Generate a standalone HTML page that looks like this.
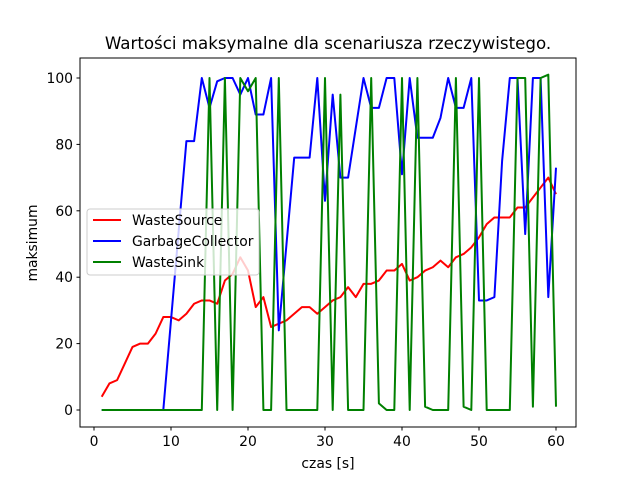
<!DOCTYPE html>
<html><head><meta charset="utf-8"><style>
body{margin:0;background:#fff}
svg{display:block;font-family:"DejaVu Sans","Liberation Sans",sans-serif}
</style></head><body>
<svg id="chart" width="640" height="480" viewBox="0 0 640 480">
<rect width="640" height="480" fill="#fff"/>
<text x="328" y="49" text-anchor="middle" font-size="16.67">Wartości maksymalne dla scenariusza rzeczywistego.</text>
<g id="ticks"></g>
<g id="series"></g>
<rect x="80" y="58" width="496" height="369" fill="none" stroke="#000" stroke-width="1"/>
<text x="328" y="468" text-anchor="middle" font-size="13.9">czas [s]</text>
<text transform="translate(37,243) rotate(-90)" text-anchor="middle" font-size="13.9">maksimum</text>
<g id="legend"></g>
</svg>
<script>
const xTicks=[0,10,20,30,40,50,60];
const yTicks=[0,20,40,60,80,100];
const seriesNames=["WasteSource","GarbageCollector","WasteSink"];
const seriesColors=["#ff0000","#0000ff","#008000"];
const wasteSource=[4,8,9,14,19,20,20,23,28,28,27,29,32,33,33,32,39,41,46,42,31,34,25,26,27,29,31,31,29,31,33,34,37,34,38,38,39,42,42,44,39,40,42,43,45,43,46,47,49,52,56,58,58,58,61,61,64,67,70,65];
const garbageCollector=[0,0,0,0,0,0,0,0,0,27,54,81,81,100,91,99,100,100,95,100,89,89,100,24,50,76,76,76,100,63,95,70,70,85,100,91,91,100,100,71,100,82,82,82,88,100,91,91,100,33,33,34,75,100,100,53,100,100,34,73];
const wasteSink=[0,0,0,0,0,0,0,0,0,0,0,0,0,0,100,0,100,0,100,96,100,0,0,100,0,0,0,0,0,100,0,95,0,0,0,100,2,0,0,100,0,100,1,0,0,0,100,1,0,100,0,0,0,0,100,100,1,100,101,1];
const NS="http://www.w3.org/2000/svg";
const X=v=>94+v*7.7;
const Y=v=>410-v*3.32;
const tg=document.getElementById('ticks');
xTicks.forEach(t=>{
  const l=document.createElementNS(NS,'line');
  l.setAttribute('x1',X(t));l.setAttribute('x2',X(t));l.setAttribute('y1',427);l.setAttribute('y2',430.5);l.setAttribute('stroke','#000');
  
  
  tg.appendChild(l);
  const s=document.createElementNS(NS,'text');
  s.setAttribute('x',X(t));s.setAttribute('y',446);s.setAttribute('text-anchor','middle');s.setAttribute('font-size','13.9');s.textContent=t;
  
  
  tg.appendChild(s);
});
yTicks.forEach(t=>{
  const l=document.createElementNS(NS,'line');
  l.setAttribute('x1',76.5);l.setAttribute('x2',80);l.setAttribute('y1',Y(t));l.setAttribute('y2',Y(t));l.setAttribute('stroke','#000');
  
  
  tg.appendChild(l);
  const s=document.createElementNS(NS,'text');
  s.setAttribute('x',73);s.setAttribute('y',Y(t)+5);s.setAttribute('text-anchor','end');s.setAttribute('font-size','13.9');s.textContent=t;
  
  
  tg.appendChild(s);
});
const sg=document.getElementById('series');
[wasteSource,garbageCollector,wasteSink].forEach((arr,i)=>{
  const p=document.createElementNS(NS,'polyline');
  p.setAttribute('points',arr.map((v,j)=>X(j+1)+','+Y(v)).join(' '));
  p.setAttribute('fill','none');p.setAttribute('stroke',seriesColors[i]);p.setAttribute('stroke-width','2');p.setAttribute('stroke-linejoin','round');
  
  
  sg.appendChild(p);
});
const lg=document.getElementById('legend');
const box=document.createElementNS(NS,'rect');
box.setAttribute('x',87);box.setAttribute('y',209);box.setAttribute('width',172);box.setAttribute('height',66);box.setAttribute('rx',3);
box.setAttribute('fill','rgba(255,255,255,0.8)');box.setAttribute('stroke','#ccc');


lg.appendChild(box);
seriesNames.forEach((n,i)=>{
  const y=220+i*21;
  const l=document.createElementNS(NS,'line');
  l.setAttribute('x1',93);l.setAttribute('x2',121);l.setAttribute('y1',y);l.setAttribute('y2',y);l.setAttribute('stroke',seriesColors[i]);l.setAttribute('stroke-width','2');
  
  
  lg.appendChild(l);
  const t=document.createElementNS(NS,'text');
  t.setAttribute('x',132);t.setAttribute('y',y+5);t.setAttribute('font-size','13.9');t.textContent=n;
  
  
  lg.appendChild(t);
});
</script>
</body></html>
